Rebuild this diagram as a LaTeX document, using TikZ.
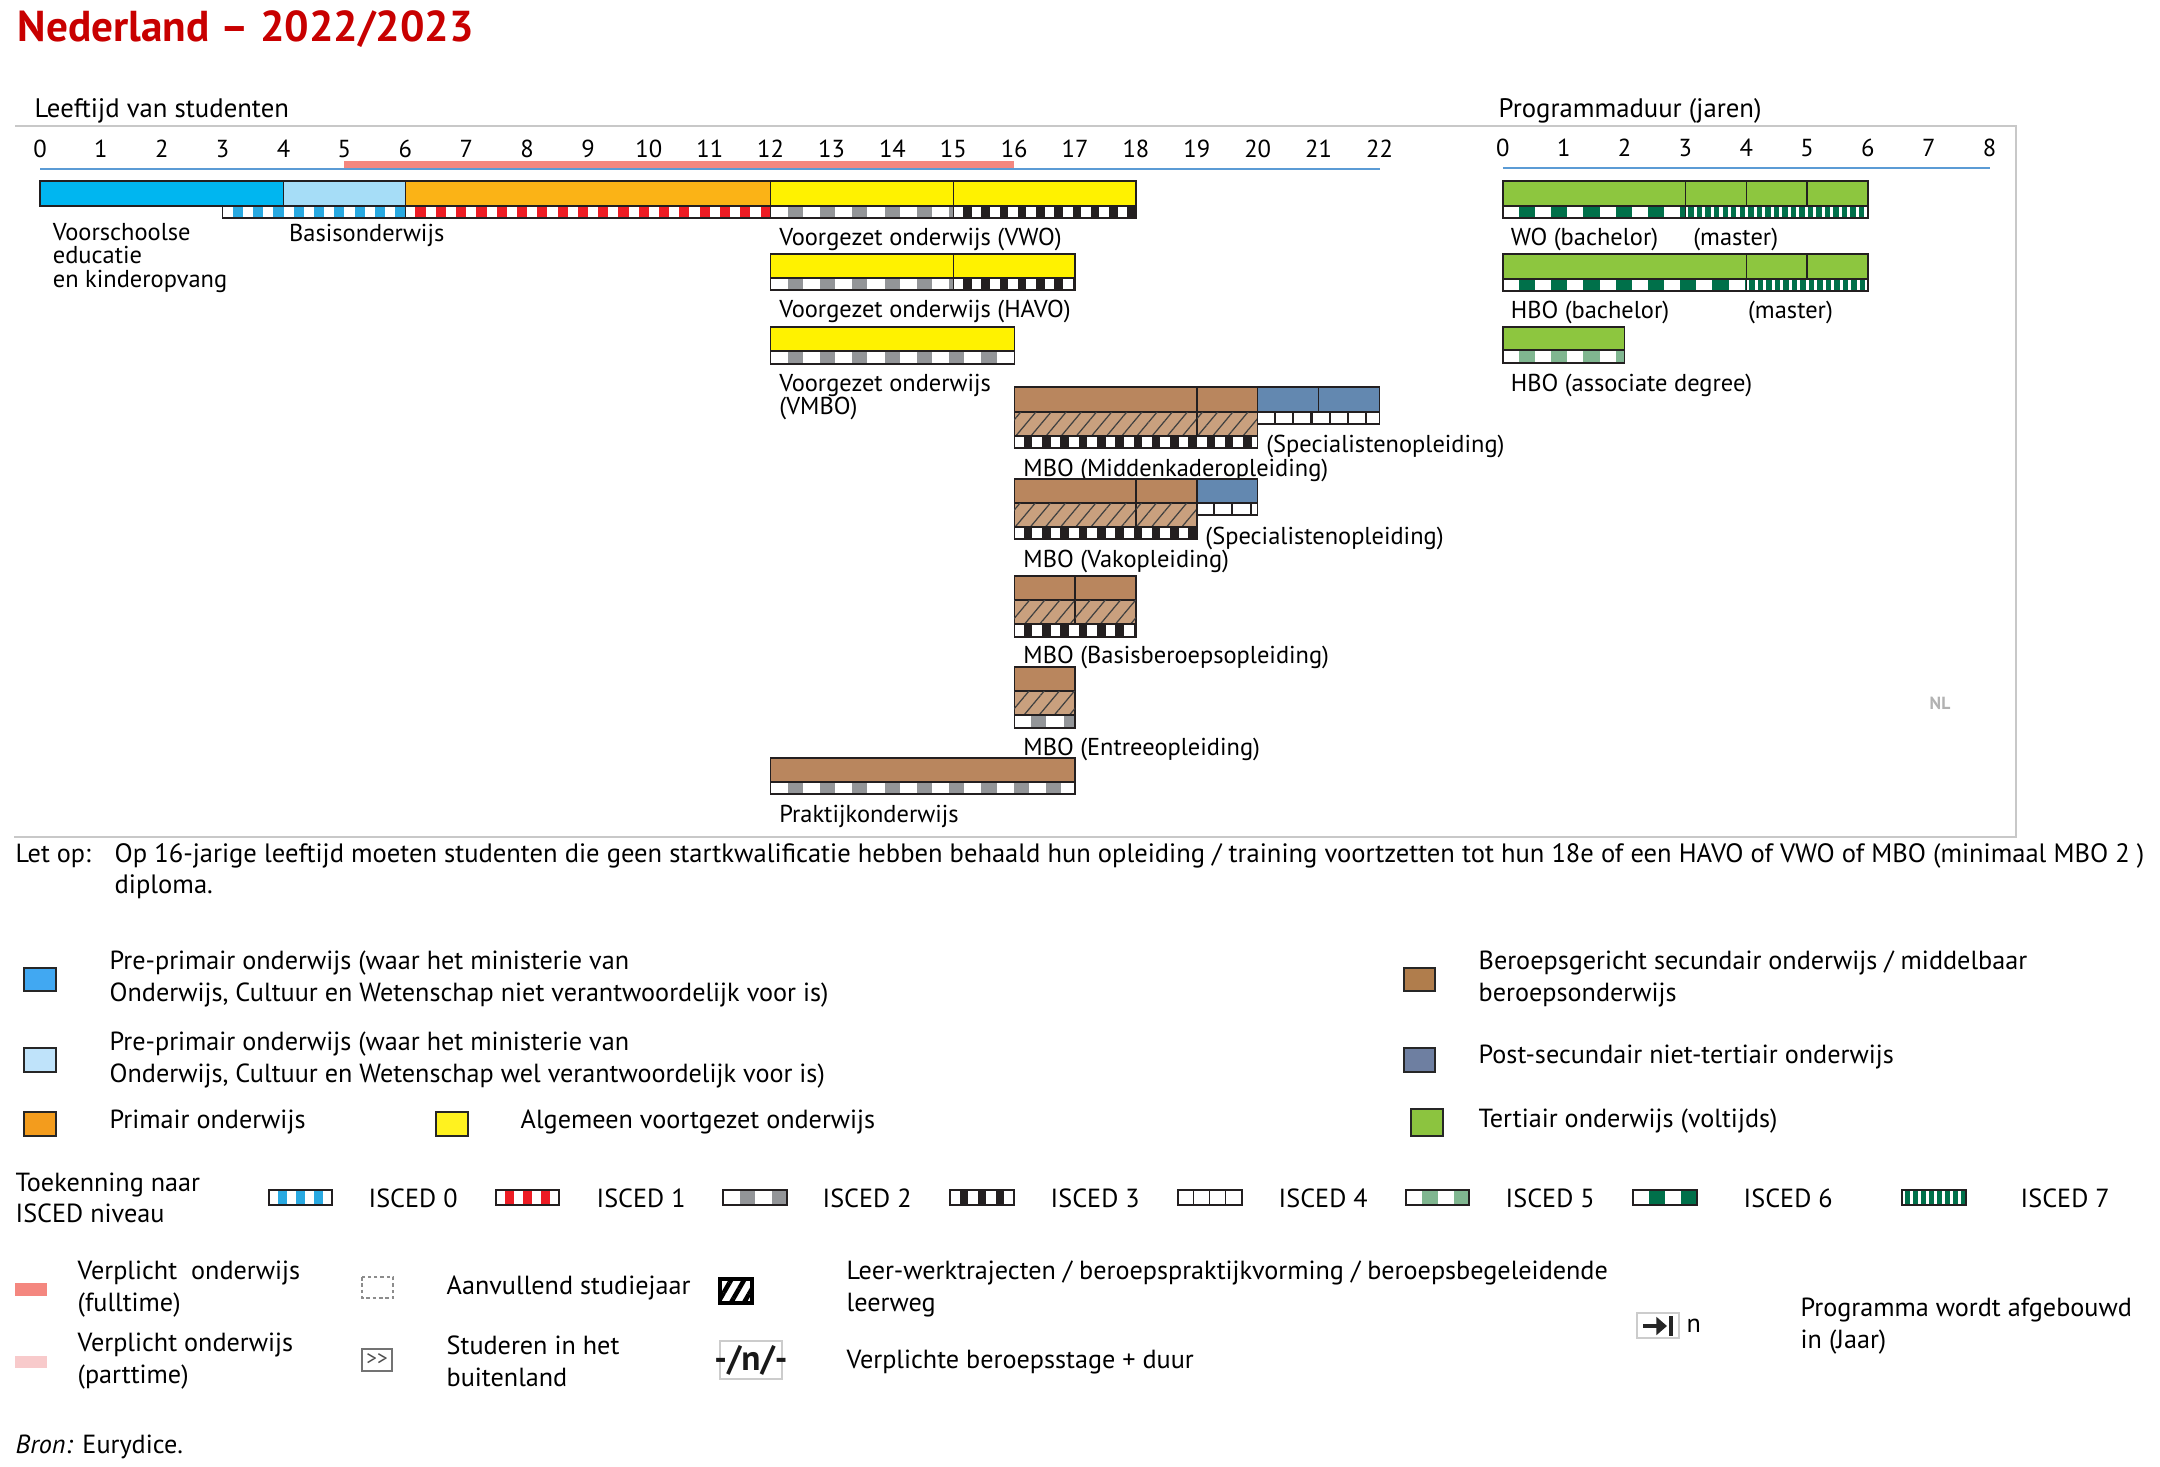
\documentclass[tikz,border=0pt]{standalone}
\usepackage{fontspec}
\setmainfont{PT Sans}
\usetikzlibrary{positioning, patterns.meta, arrows.meta}

\definecolor{titlered}{HTML}{C80000}
\definecolor{preblue}{HTML}{00B6F0}
\definecolor{prelight}{HTML}{A6DDF7}
\definecolor{primorange}{HTML}{FBB316}
\definecolor{secyellow}{HTML}{FFF200}
\definecolor{vocbrown}{HTML}{B9865E}
\definecolor{hatchbrown}{HTML}{C9A07E}
\definecolor{postslate}{HTML}{6388B0}
\definecolor{tergreen}{HTML}{8DC63F}
\definecolor{compred}{HTML}{F4877F}
\definecolor{comppink}{HTML}{F8CACB}
\definecolor{axisblue}{HTML}{5B9BD5}
\definecolor{framegray}{HTML}{C8C8C8}
\definecolor{iscblue}{HTML}{29A9E1}
\definecolor{iscred}{HTML}{ED1C24}
\definecolor{iscgray}{HTML}{939598}
\definecolor{iscblack}{HTML}{231F20}
\definecolor{isclight}{HTML}{80B690}
\definecolor{iscdark}{HTML}{00704A}
\definecolor{legblue}{HTML}{41A8F2}
\definecolor{leglight}{HTML}{BFE3FA}
\definecolor{legorange}{HTML}{F39C1D}
\definecolor{legyellow}{HTML}{FFF21F}
\definecolor{legbrown}{HTML}{B07D4C}
\definecolor{legslate}{HTML}{6E7FA1}
\definecolor{leggreen}{HTML}{8CC43F}

% ISCED strip: x1, x2, ytop, ybottom, period, cell width, colour
\newcommand{\isced}[7]{%
  \begin{scope}
    \clip (#1,#3) rectangle (#2,#4);
    \fill[white] (#1,#3) rectangle (#2,#4);
    \foreach \k in {0,...,40}
      \fill[#7] ({#1+#5*\k+#5-#6},#3) rectangle ++(#6,{#4-#3});
  \end{scope}
  \draw[iscblack, line width=0.4pt] (#1,#3) rectangle (#2,#4);
}

\begin{document}
\begin{tikzpicture}[
  x=0.01cm, y=-0.01cm,
  every node/.style={inner sep=0pt},
  txt/.style={anchor=west, align=left, font=\fontsize{6.95}{6.8}\selectfont},
  tick/.style={font=\fontsize{7}{8}\selectfont},
  head/.style={anchor=west, font=\fontsize{7.6}{9}\selectfont},
  leg/.style={anchor=west, align=left, font=\fontsize{7.45}{9}\selectfont},
  bar/.style={draw=iscblack, line width=0.4pt},
  hatch/.style={bar, fill=hatchbrown, postaction={pattern={Lines[angle=50, distance=3.3pt, line width=0.35pt]}, pattern color=black!75}},
  swatch/.style={draw=black!85, line width=0.45pt}
]
\useasboundingbox (0,0) rectangle (2160,1466);
\fill[white] (0,0) rectangle (2160,1466);

% Title and headings
\node[anchor=west, font=\fontsize{12.3}{13}\selectfont\bfseries, text=titlered] (title) at (17,29) {Nederland – 2022/2023};
\node[head] (agehead) at (34,111) {Leeftijd van studenten};
\node[head] (durhead) at (1498,111) {Programmaduur (jaren)};
\draw[framegray, line width=0.5pt] (15,126) -- (2016,126) -- (2016,837) -- (14,837);
\node[font=\fontsize{5}{6}\selectfont\bfseries, text=black!30] (nl) at (1940,703) {NL};

% Age axis
\begin{scope}[xshift=0.4cm, x=0.6085cm]
\fill[compred] (5,161) rectangle (16,168.5);
\draw[axisblue, line width=0.45pt] (0,169) -- (22,169);
\foreach \a in {0,...,22} \node[tick] (age\a) at (\a,149) {\a};

% Pre-primary, primary, VWO
\draw[bar, fill=preblue] (0,181) rectangle (4,206);
\draw[bar, fill=prelight] (4,181) rectangle (6,206);
\draw[bar, fill=primorange] (6,181) rectangle (12,206);
\draw[bar, fill=secyellow] (12,181) rectangle (15,206);
\draw[bar, fill=secyellow] (15,181) rectangle (18,206);
\isced{3}{6}{206}{218}{1/3}{1/6}{iscblue}
\isced{6}{12}{206}{218}{1/3}{1/6}{iscred}
\isced{12}{15}{206}{218}{0.53}{0.25}{iscgray}
\isced{15}{18}{206}{218}{0.3}{0.14}{iscblack}
\node[txt] (vschool) at (0.2,258) {Voorschoolse\\educatie\\en kinderopvang};
\node[txt] (basis) at (4.08,235) {Basisonderwijs};
\node[txt] (vwo) at (12.13,239) {Voorgezet onderwijs (VWO)};

% HAVO
\draw[bar, fill=secyellow] (12,254) rectangle (15,278);
\draw[bar, fill=secyellow] (15,254) rectangle (17,278);
\isced{12}{15}{278}{290}{0.53}{0.25}{iscgray}
\isced{15}{17}{278}{290}{0.3}{0.14}{iscblack}
\node[txt] (havo) at (12.13,311) {Voorgezet onderwijs (HAVO)};

% VMBO
\draw[bar, fill=secyellow] (12,327) rectangle (16,351);
\isced{12}{16}{351}{364}{0.53}{0.25}{iscgray}
\node[txt] (vmbo) at (12.13,397) {Voorgezet onderwijs\\(VMBO)};

% MBO Middenkader + specialist
\draw[bar, fill=vocbrown] (16,387) rectangle (19,412);
\draw[bar, fill=vocbrown] (19,387) rectangle (20,412);
\draw[hatch] (16,412) rectangle (19,436);
\draw[hatch] (19,412) rectangle (20,436);
\isced{16}{20}{436}{448}{0.3}{0.14}{iscblack}
\draw[bar, fill=postslate] (20,387) rectangle (21,412);
\draw[bar, fill=postslate] (21,387) rectangle (22,412);
\isced{20}{22}{412}{424}{0.3}{0.035}{iscblack}
\node[txt] (mkspec) at (20.13,446) {(Specialistenopleiding)};
\node[txt] (mk) at (16.14,470) {MBO (Middenkaderopleiding)};

% MBO Vak + specialist
\draw[bar, fill=vocbrown] (16,479) rectangle (18,503);
\draw[bar, fill=vocbrown] (18,479) rectangle (19,503);
\draw[hatch] (16,503) rectangle (18,527);
\draw[hatch] (18,503) rectangle (19,527);
\isced{16}{19}{527}{539}{0.3}{0.14}{iscblack}
\draw[bar, fill=postslate] (19,479) rectangle (20,503);
\isced{19}{20}{503}{515}{0.3}{0.035}{iscblack}
\node[txt] (vakspec) at (19.13,538) {(Specialistenopleiding)};
\node[txt] (vak) at (16.14,561) {MBO (Vakopleiding)};

% MBO Basisberoeps
\draw[bar, fill=vocbrown] (16,576) rectangle (17,600);
\draw[bar, fill=vocbrown] (17,576) rectangle (18,600);
\draw[hatch] (16,600) rectangle (17,624);
\draw[hatch] (17,600) rectangle (18,624);
\isced{16}{18}{624}{637}{0.3}{0.14}{iscblack}
\node[txt] (basisb) at (16.14,657) {MBO (Basisberoepsopleiding)};

% MBO Entree
\draw[bar, fill=vocbrown] (16,667) rectangle (17,691);
\draw[hatch] (16,691) rectangle (17,715);
\isced{16}{17}{715}{728}{0.53}{0.25}{iscgray}
\node[txt] (entree) at (16.14,749) {MBO (Entreeopleiding)};

% Praktijkonderwijs
\draw[bar, fill=vocbrown] (12,758) rectangle (17,782);
\isced{12}{17}{782}{794}{0.53}{0.25}{iscgray}
\node[txt] (prakt) at (12.13,816) {Praktijkonderwijs};
\end{scope}

% Programme duration axis
\begin{scope}[xshift=15.02cm, x=0.608cm]
\draw[axisblue, line width=0.45pt] (0,168) -- (8,168);
\foreach \j in {0,...,8} \node[tick] (dur\j) at (\j,148) {\j};

% WO
\draw[bar, fill=tergreen] (0,181) rectangle (3,206);
\draw[bar, fill=tergreen] (3,181) rectangle (4,206);
\draw[bar, fill=tergreen] (4,181) rectangle (5,206);
\draw[bar, fill=tergreen] (5,181) rectangle (6,206);
\isced{0}{3}{206}{218}{0.53}{0.265}{iscdark}
\isced{3}{6}{206}{218}{0.14}{0.09}{iscdark}
\node[txt] (wobach) at (0.12,239) {WO (bachelor)};
\node[txt] (womast) at (3.12,239) {(master)};

% HBO
\draw[bar, fill=tergreen] (0,254) rectangle (4,279);
\draw[bar, fill=tergreen] (4,254) rectangle (5,279);
\draw[bar, fill=tergreen] (5,254) rectangle (6,279);
\isced{0}{4}{279}{291}{0.53}{0.265}{iscdark}
\isced{4}{6}{279}{291}{0.14}{0.09}{iscdark}
\node[txt] (hbobach) at (0.12,312) {HBO (bachelor)};
\node[txt] (hbomast) at (4.02,312) {(master)};

% HBO associate degree
\draw[bar, fill=tergreen] (0,327) rectangle (2,350);
\isced{0}{2}{350}{363}{0.53}{0.265}{isclight}
\node[txt] (hboad) at (0.12,385) {HBO (associate degree)};
\end{scope}

% Note
\node[leg] (letop) at (15,856) {Let op:};
\node[leg, font=\fontsize{7.55}{8.9}\selectfont] (note) at (114,871) {Op 16-jarige leeftijd moeten studenten die geen startkwalificatie hebben behaald hun opleiding / training voortzetten tot hun 18e of een HAVO of VWO of MBO (minimaal MBO 2 )\\diploma.};

% Legend: colours
\draw[swatch, fill=legblue] (24,968) rectangle (56,991);
\node[leg] (legpre1) at (109,979) {Pre-primair onderwijs (waar het ministerie van\\Onderwijs, Cultuur en Wetenschap niet verantwoordelijk voor is)};
\draw[swatch, fill=leglight] (24,1048) rectangle (56,1072);
\node[leg] (legpre2) at (109,1060) {Pre-primair onderwijs (waar het ministerie van\\Onderwijs, Cultuur en Wetenschap wel verantwoordelijk voor is)};
\draw[swatch, fill=legorange] (24,1112) rectangle (56,1136);
\node[leg] (legprim) at (109,1122) {Primair onderwijs};
\draw[swatch, fill=legyellow] (436,1112) rectangle (468,1136);
\node[leg] (legsec) at (520,1122) {Algemeen voortgezet onderwijs};
\draw[swatch, fill=legbrown] (1404,968) rectangle (1435,991);
\node[leg] (legvoc) at (1478,979) {Beroepsgericht secundair onderwijs / middelbaar\\beroepsonderwijs};
\draw[swatch, fill=legslate] (1404,1048) rectangle (1435,1072);
\node[leg] (legpost) at (1478,1057) {Post-secundair niet-tertiair onderwijs};
\draw[swatch, fill=leggreen] (1411,1109) rectangle (1443,1136);
\node[leg] (legter) at (1478,1121) {Tertiair onderwijs (voltijds)};

% Legend: ISCED levels
\node[leg] (legisced) at (15,1198) {Toekenning naar\\ISCED niveau};
\isced{269}{332}{1190}{1205}{18}{9}{iscblue}
\node[leg] (isc0) at (368,1198) {ISCED 0};
\isced{496}{559}{1190}{1205}{18}{9}{iscred}
\node[leg] (isc1) at (596,1198) {ISCED 1};
\isced{723}{787}{1190}{1205}{32}{15}{iscgray}
\node[leg] (isc2) at (822,1198) {ISCED 2};
\isced{950}{1014}{1190}{1205}{18}{8}{iscblack}
\node[leg] (isc3) at (1050,1198) {ISCED 3};
\isced{1178}{1242}{1190}{1205}{16}{1.5}{iscblack}
\node[leg] (isc4) at (1278,1198) {ISCED 4};
\isced{1406}{1469}{1190}{1205}{32}{16}{isclight}
\node[leg] (isc5) at (1505,1198) {ISCED 5};
\isced{1633}{1697}{1190}{1205}{32}{16}{iscdark}
\node[leg] (isc6) at (1743,1198) {ISCED 6};
\isced{1902}{1966}{1190}{1205}{8}{5}{iscdark}
\node[leg] (isc7) at (2020,1198) {ISCED 7};

% Legend: other signs
\fill[compred] (15,1283) rectangle (47,1296);
\node[leg] (legfull) at (77,1289) {Verplicht\ \ onderwijs\\(fulltime)};
\fill[comppink] (15,1356) rectangle (47,1368);
\node[leg] (legpart) at (77,1361) {Verplicht onderwijs\\(parttime)};
\draw[black!45, dash pattern=on 1pt off 0.8pt, line width=0.3pt] (362,1277) rectangle (393,1298);
\node[leg] (legextra) at (446,1288) {Aanvullend studiejaar};
\draw[black!55, line width=0.4pt] (362,1349) rectangle (392,1371);
\node[font=\fontsize{6}{7}\selectfont, text=black!70] (abroadsign) at (377,1360) {{>}{>}};
\node[leg] (legabroad) at (446,1361) {Studeren in het\\buitenland};
\path[draw=black, line width=0.9pt, fill=white, postaction={pattern={Lines[angle=60, distance=3.2pt, line width=1.3pt]}, pattern color=black}] (720,1279) rectangle (752,1303);
\node[leg] (legwork) at (846,1289) {Leer-werktrajecten / beroepspraktijkvorming / beroepsbegeleidende\\leerweg};
\draw[black!20, line width=0.4pt] (720,1341) rectangle (782,1379);
\node[font=\fontsize{10}{11}\selectfont\bfseries, text=black!90] (stagesign) at (751,1360) {-/n/-};
\node[leg] (legstage) at (846,1362) {Verplichte beroepsstage + duur};
\draw[black!20, line width=0.4pt] (1637,1313) rectangle (1679,1338);
\coordinate (arrowstart) at (1643,1326);
\coordinate (arrowend) at (1667,1326);
\draw[-{Triangle[length=3pt, width=5pt]}, line width=1.2pt, black!85] (arrowstart) -- (arrowend);
\draw[line width=1pt, black!85] (1671,1316) -- (1671,1336);
\node[leg] (legn) at (1686,1326) {n};
\node[leg] (legphase) at (1800,1326) {Programma wordt afgebouwd\\in (Jaar)};

\node[leg] (source) at (15,1447) {\textit{Bron:} Eurydice.};
\end{tikzpicture}
\end{document}
